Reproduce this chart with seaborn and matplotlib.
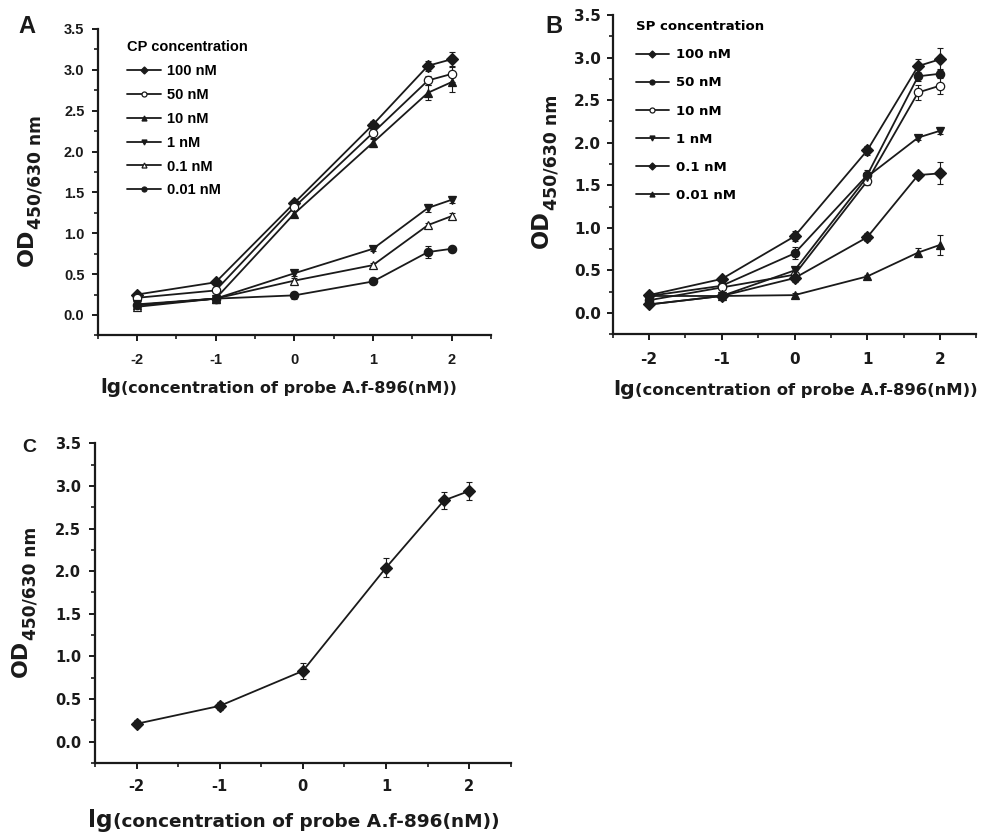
import matplotlib
matplotlib.use("Agg")
import matplotlib.pyplot as plt
import seaborn as sns
from matplotlib.transforms import IdentityTransform
from matplotlib.ticker import MultipleLocator

# ---------------- data ----------------
x_lg = [-2, -1, 0, 1, 1.699, 2]
x_ticks = [-2, -1, 0, 1, 2]
x_tick_labels = ["-2", "-1", "0", "1", "2"]
y_ticks = [0.0, 0.5, 1.0, 1.5, 2.0, 2.5, 3.0, 3.5]
y_tick_labels = ["0.0", "0.5", "1.0", "1.5", "2.0", "2.5", "3.0", "3.5"]

cp_labels = ["100 nM", "50 nM", "10 nM", "1 nM", "0.1 nM", "0.01 nM"]
cp_100 = [0.25, 0.40, 1.37, 2.33, 3.05, 3.13]
cp_50 = [0.21, 0.30, 1.32, 2.23, 2.87, 2.95]
cp_10 = [0.12, 0.20, 1.24, 2.11, 2.72, 2.85]
cp_1 = [0.13, 0.20, 0.51, 0.81, 1.31, 1.41]
cp_01 = [0.10, 0.20, 0.42, 0.61, 1.10, 1.21]
cp_001 = [0.12, 0.20, 0.24, 0.41, 0.77, 0.81]
cp_100_err = [0.02, 0.02, 0.03, 0.05, 0.06, 0.09]
cp_50_err = [0.02, 0.02, 0.03, 0.08, 0.06, 0.10]
cp_10_err = [0.02, 0.02, 0.03, 0.05, 0.09, 0.12]
cp_1_err = [0.02, 0.02, 0.03, 0.03, 0.05, 0.04]
cp_01_err = [0.02, 0.02, 0.03, 0.03, 0.03, 0.04]
cp_001_err = [0.02, 0.02, 0.04, 0.02, 0.07, 0.02]

sp_labels = ["100 nM", "50 nM", "10 nM", "1 nM", "0.1 nM", "0.01 nM"]
sp_100 = [0.21, 0.40, 0.90, 1.91, 2.90, 2.98]
sp_50 = [0.20, 0.32, 0.70, 1.62, 2.78, 2.81]
sp_10 = [0.15, 0.30, 0.45, 1.55, 2.59, 2.67]
sp_1 = [0.10, 0.20, 0.50, 1.60, 2.06, 2.14]
sp_01 = [0.10, 0.20, 0.41, 0.89, 1.62, 1.64]
sp_001 = [0.20, 0.20, 0.21, 0.43, 0.71, 0.80]
sp_100_err = [0.02, 0.02, 0.06, 0.05, 0.08, 0.13]
sp_50_err = [0.02, 0.02, 0.07, 0.06, 0.05, 0.05]
sp_10_err = [0.02, 0.02, 0.03, 0.05, 0.09, 0.10]
sp_1_err = [0.02, 0.02, 0.03, 0.05, 0.03, 0.04]
sp_01_err = [0.02, 0.02, 0.05, 0.05, 0.02, 0.13]
sp_001_err = [0.02, 0.02, 0.03, 0.02, 0.05, 0.12]

c_vals = [0.21, 0.42, 0.83, 2.04, 2.83, 2.94]
c_err = [0.04, 0.05, 0.09, 0.11, 0.10, 0.11]

cp_series = [cp_100, cp_50, cp_10, cp_1, cp_01, cp_001]
cp_errs = [cp_100_err, cp_50_err, cp_10_err, cp_1_err, cp_01_err, cp_001_err]
sp_series = [sp_100, sp_50, sp_10, sp_1, sp_01, sp_001]
sp_errs = [sp_100_err, sp_50_err, sp_10_err, sp_1_err, sp_01_err, sp_001_err]

cp_styles = [("D", "k"), ("o", "white"), ("^", "k"), ("v", "k"), ("^", "white"), ("o", "k")]
sp_styles = [("D", "k"), ("o", "k"), ("o", "white"), ("v", "k"), ("D", "k"), ("^", "k")]

# ---------------- style ----------------
sns.set_theme(style="ticks")
plt.rcParams["font.family"] = ["Liberation Sans", "DejaVu Sans"]
plt.rcParams["axes.unicode_minus"] = False
for key in ["text.color", "axes.labelcolor", "xtick.color", "ytick.color",
            "axes.edgecolor", "xtick.labelcolor", "ytick.labelcolor"]:
    plt.rcParams[key] = "black"

W, H = 981, 832
fig = plt.figure(figsize=(W / 100, H / 100), dpi=100)
renderer = fig.canvas.get_renderer()

ARIAL = "Liberation Sans"
DEJAVU = "DejaVu Sans"


def fr(l, t, r, b):
    return [l / W, 1 - b / H, (r - l) / W, (b - t) / H]


axA = fig.add_axes(fr(97.6, 29, 491.0, 335.4))
axB = fig.add_axes(fr(612.6, 15, 976.4, 334.3))
axC = fig.add_axes(fr(95.1, 443.3, 510.6, 763.0))


def style_axis(ax, family, size, xpad, ypad):
    ax.set_facecolor("white")
    ax.set_xlim(-2.5, 2.5)
    ax.set_ylim(-0.25, 3.5)
    ax.set_xticks(x_ticks)
    ax.set_xticklabels(x_tick_labels)
    ax.set_yticks(y_ticks)
    ax.set_yticklabels(y_tick_labels)
    ax.xaxis.set_minor_locator(MultipleLocator(0.5))
    ax.yaxis.set_minor_locator(MultipleLocator(0.25))
    sns.despine(ax=ax)
    for s in ["left", "bottom"]:
        ax.spines[s].set_linewidth(1.6)
        ax.spines[s].set_color("k")
    ax.tick_params(which="major", direction="out", length=4.5, width=1.4, color="k")
    ax.tick_params(which="minor", direction="out", length=3.0, width=1.2, color="k")
    ax.tick_params(axis="x", which="major", pad=xpad)
    ax.tick_params(axis="y", which="major", pad=ypad)
    for lab in ax.get_xticklabels() + ax.get_yticklabels():
        lab.set_family(family)
        lab.set_weight("bold")
        lab.set_size(size)
        lab.set_color("k")
    ax.set_xlabel("")
    ax.set_ylabel("")


def draw(ax, ys, errs, marker, face, label, ms):
    ax.errorbar(x_lg, ys, yerr=errs, fmt="none", ecolor="k",
                elinewidth=0.8, capsize=2.3, capthick=0.8, zorder=2)
    sns.lineplot(x=x_lg, y=ys, ax=ax, color="k", linewidth=1.3, marker=marker,
                 markersize=ms, markerfacecolor=face, markeredgecolor="k",
                 markeredgewidth=0.9, errorbar=None, sort=False, legend=False,
                 zorder=3)
    line = ax.lines[-1]
    line.set_label(label)
    return line


handlesA = [draw(axA, y, e, m, f, l, 6)
            for y, e, (m, f), l in zip(cp_series, cp_errs, cp_styles, cp_labels)]
handlesB = [draw(axB, y, e, m, f, l, 6)
            for y, e, (m, f), l in zip(sp_series, sp_errs, sp_styles, sp_labels)]
draw(axC, c_vals, c_err, "D", "k", "C", 6.5)

style_axis(axA, ARIAL, 10.5, 8.5, 5.0)
style_axis(axB, DEJAVU, 11, 8.0, 4.0)
style_axis(axC, DEJAVU, 10.5, 7.0, 5.5)

# legends
legA = axA.legend(handlesA, cp_labels, title="CP concentration", frameon=False,
                  loc="upper left", bbox_to_anchor=(127 / W, 1 - 40 / H),
                  bbox_transform=fig.transFigure, borderpad=0, borderaxespad=0,
                  handlelength=2.3, handletextpad=0.45, labelspacing=0.68,
                  markerscale=0.6, alignment="left",
                  prop={"family": ARIAL, "weight": "bold", "size": 10.5},
                  title_fontproperties={"family": ARIAL, "weight": "bold", "size": 10.5})
legB = axB.legend(handlesB, sp_labels, title="SP concentration", frameon=False,
                  loc="upper left", bbox_to_anchor=(636 / W, 1 - 20 / H),
                  bbox_transform=fig.transFigure, borderpad=0, borderaxespad=0,
                  handlelength=2.5, handletextpad=0.5, labelspacing=1.15,
                  markerscale=0.6, alignment="left",
                  prop={"family": DEJAVU, "weight": "bold", "size": 9.5},
                  title_fontproperties={"family": DEJAVU, "weight": "bold", "size": 9.5})


# ---------------- compound axis labels ----------------
def measure(text, size, family):
    t = fig.text(0, 0, text, fontsize=size, family=family, weight="bold")
    w = t.get_window_extent(renderer).width
    t.remove()
    return w


def hlabel(x0, y_base_img, target_w, parts, family=DEJAVU):
    base = 10.0
    tot = sum(measure(t, base * rel, family) for t, rel in parts)
    s = base * target_w / tot
    x = x0
    for t, rel in parts:
        fig.text(x, H - y_base_img, t, fontsize=s * rel, family=family,
                 weight="bold", ha="left", va="baseline", color="k",
                 transform=IdentityTransform())
        x += measure(t, s * rel, family)


def vlabel(x_base, y_start_img, target_len, parts, family=DEJAVU):
    base = 10.0
    tot = sum(measure(t, base * rel, family) for t, rel, _ in parts)
    s = base * target_len / tot
    y = H - y_start_img
    for t, rel, shift in parts:
        fig.text(x_base + shift, y, t, fontsize=s * rel, family=family,
                 weight="bold", ha="left", va="baseline", rotation=90, color="k",
                 rotation_mode="anchor", transform=IdentityTransform())
        y += measure(t, s * rel, family)


xparts = [("lg", 1.25), ("(concentration of probe A.f-896(nM))", 1.0)]
hlabel(100, 393, 357, xparts)
hlabel(613, 395, 365, xparts)
hlabel(88, 827, 412, xparts)

yparts = [("OD", 1.3, 0), ("450/630 nm", 1.0, 8.5)]
vlabel(32.5, 266, 151, yparts)
vlabel(548, 248, 153, yparts)
vlabel(27, 677, 150, yparts)

# panel letters
fig.text(18 / W, 1 - 33 / H, "A", family=ARIAL, weight="bold", fontsize=17, color="k")
fig.text(545 / W, 1 - 33 / H, "B", family=ARIAL, weight="bold", fontsize=17, color="k")
fig.text(22 / W, 1 - 452 / H, "C", family=ARIAL, weight="bold", fontsize=14, color="k")

fig.savefig("out.png", dpi=100, facecolor="white")
